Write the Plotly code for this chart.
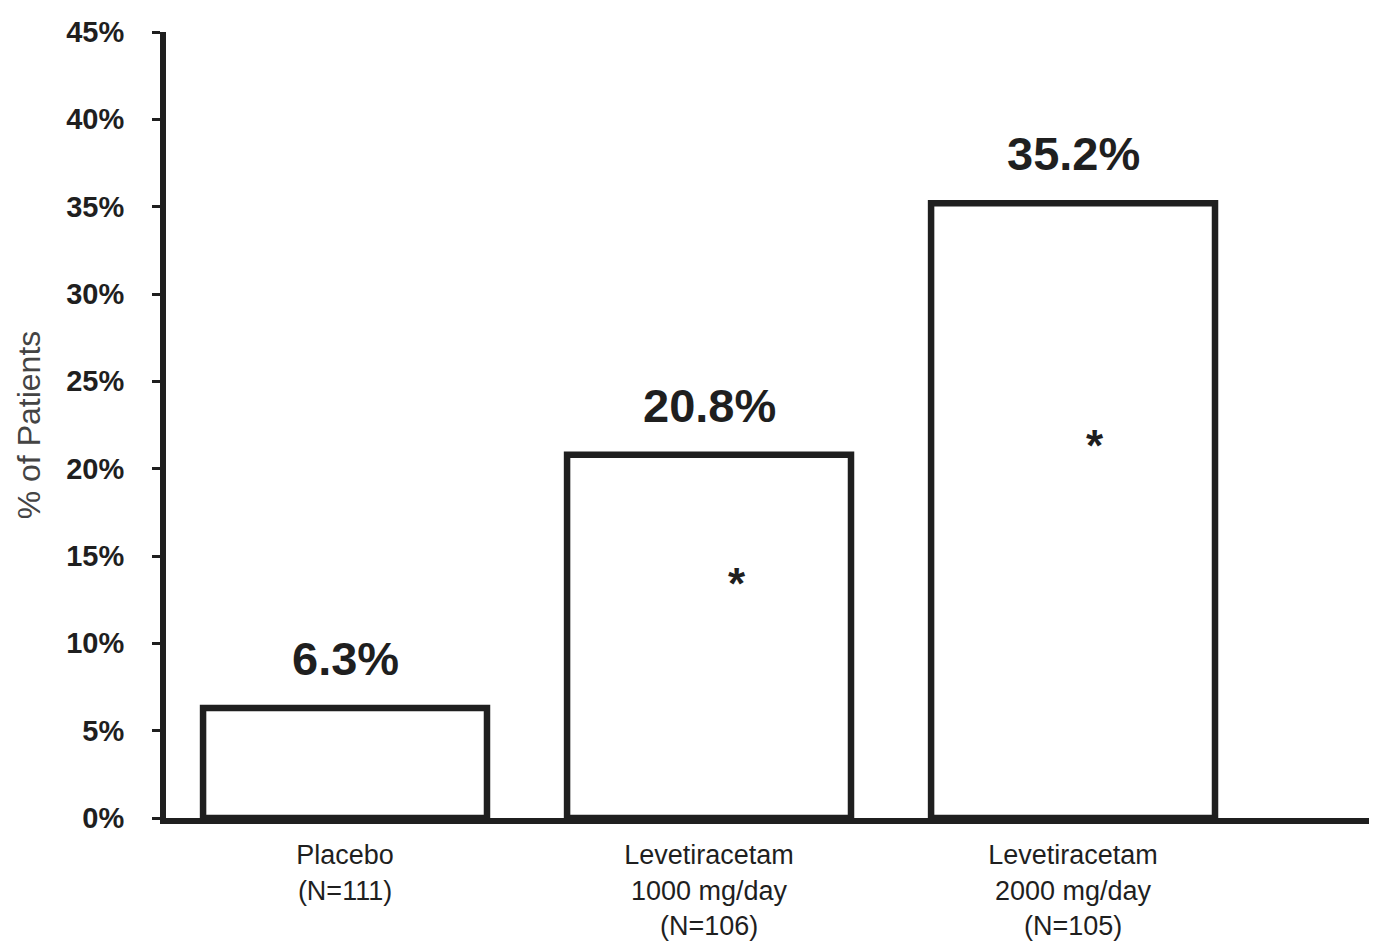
import plotly.graph_objects as go

categories = ["Placebo<br>(N=111)", "Levetiracetam<br>1000 mg/day<br>(N=106)", "Levetiracetam<br>2000 mg/day<br>(N=105)"]
values = [6.3, 20.8, 35.2]
value_labels = ["6.3%", "20.8%", "35.2%"]
significant = [False, True, True]
y_ticks = [0, 5, 10, 15, 20, 25, 30, 35, 40, 45]
y_tick_labels = [f"{t}%" for t in y_ticks]

xpos = list(range(len(categories)))
INK = "#1f1f1f"
FONT = "Liberation Sans, Arial, sans-serif"

fig = go.Figure()
fig.add_trace(go.Bar(
    x=xpos, y=values, width=0.78,
    marker=dict(color="white", line=dict(color=INK, width=6.5)),
    hoverinfo="skip", showlegend=False,
))

for x, v, lab in zip(xpos, values, value_labels):
    fig.add_annotation(x=x, y=v, text=f"<b>{lab}</b>", showarrow=False, xanchor="center",
                       yanchor="bottom", yshift=21,
                       font=dict(family=FONT, size=47, color=INK))

# significance asterisks inside bars
star_offsets = [(0, 0), (0.077, 13.4), (0.06, 21.3)]
for x, sig, (dx, sy) in zip(xpos, significant, star_offsets):
    if sig:
        fig.add_annotation(x=x + dx, y=sy, text="<b>*</b>", showarrow=False,
                           font=dict(family=FONT, size=44, color=INK))

fig.update_layout(
    width=1377, height=941,
    margin=dict(l=158, r=8, t=18, b=130),
    paper_bgcolor="white", plot_bgcolor="white",
    font=dict(family=FONT, color=INK),
)
fig.update_xaxes(
    range=[-0.4918, 2.835], tickmode="array", tickvals=xpos, ticktext=categories,
    tickfont=dict(size=27, color=INK), showline=True, linecolor=INK, linewidth=6,
    ticks="", ticklabelstandoff=8, showgrid=False, zeroline=False, fixedrange=True,
)
fig.update_yaxes(
    range=[0, 45], tickmode="array", tickvals=y_ticks, ticktext=[f"<b>{t}</b>" for t in y_tick_labels],
    tickfont=dict(size=29, color=INK), showline=True, linecolor=INK, linewidth=6,
    ticks="outside", ticklen=8, tickwidth=3, tickcolor=INK, ticklabelstandoff=22,
    showgrid=False, zeroline=False,
    title=dict(text="% of Patients", font=dict(size=32, color="#444444"), standoff=18),
)

fig.write_html("out.html")
